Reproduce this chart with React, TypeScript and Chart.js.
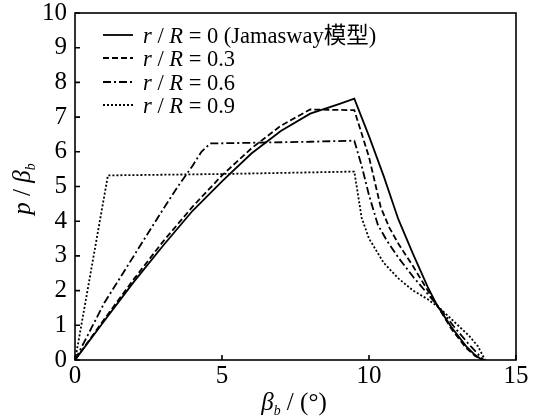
import React, { useEffect, useRef } from "react";
import { Chart, registerables } from "chart.js";

Chart.register(...registerables);

const FONT = '"Liberation Serif", "Times New Roman", "Noto Sans CJK SC", serif';

// x: beta_b (deg), y: p / beta_b
const xTickValues = [0, 5, 10, 15];
const yTickValues = [0, 1, 2, 3, 4, 5, 6, 7, 8, 9, 10];

const legendValues = ["0 (Jamasway模型)", "0.3", "0.6", "0.9"];

const seriesR00: number[][] = [
  [0, 0], [1, 1.13], [2, 2.25], [3, 3.3], [4, 4.3], [5, 5.15], [6, 5.95], [7, 6.6],
  [8, 7.1], [9, 7.38], [9.5, 7.53], [10, 6.45], [10.5, 5.3], [11, 4.05], [11.5, 3.05],
  [12, 2.1], [12.3, 1.6], [12.8, 0.95], [13.3, 0.4], [13.6, 0.15], [13.85, 0],
];
const seriesR03: number[][] = [
  [0, 0], [1, 1.18], [2, 2.33], [3, 3.42], [4, 4.42], [5, 5.32], [6, 6.1], [7, 6.75],
  [8, 7.22], [9.5, 7.2], [10, 5.85], [10.4, 4.4], [10.7, 3.8], [11, 3.35], [11.5, 2.7],
  [12, 2.0], [12.3, 1.6], [12.8, 0.9], [13.3, 0.35], [13.6, 0.12], [13.85, 0],
];
const seriesR06: number[][] = [
  [0, 0], [1, 1.65], [2, 3.0], [3, 4.35], [3.5, 5.0], [4, 5.6], [4.3, 6.0], [4.6, 6.24],
  [6, 6.26], [8, 6.29], [9.5, 6.32], [9.75, 5.6], [10, 4.75], [10.3, 3.9], [10.6, 3.45],
  [11, 2.95], [11.5, 2.4], [12, 1.9], [12.4, 1.5], [12.9, 0.95], [13.4, 0.45], [13.9, 0],
];
const seriesR09: number[][] = [
  [0, 0], [0.1, 0.45], [1.12, 5.32], [5, 5.36], [9.5, 5.43], [9.6, 4.9], [9.75, 4.1],
  [10, 3.5], [10.5, 2.8], [11, 2.35], [11.5, 2.0], [12, 1.75], [12.4, 1.5], [12.9, 1.1],
  [13.4, 0.7], [13.7, 0.4], [13.95, 0],
];

const dashes: number[][] = [[], [6, 3], [8, 3, 2, 3], [2, 2]];
const allSeries = [seriesR00, seriesR03, seriesR06, seriesR09];

type Part = { t: string; it?: boolean; sub?: boolean };

function drawParts(ctx: CanvasRenderingContext2D, parts: Part[], x: number, y: number, size: number) {
  let cx = x;
  for (const p of parts) {
    const s = p.sub ? size * 0.55 : size;
    ctx.font = `${p.it ? "italic " : ""}${s}px ${FONT}`;
    ctx.fillText(p.t, cx, y + (p.sub ? size * 0.18 : 0));
    cx += ctx.measureText(p.t).width;
  }
  return cx - x;
}

function measureParts(ctx: CanvasRenderingContext2D, parts: Part[], size: number) {
  let w = 0;
  for (const p of parts) {
    const s = p.sub ? size * 0.55 : size;
    ctx.font = `${p.it ? "italic " : ""}${s}px ${FONT}`;
    w += ctx.measureText(p.t).width;
  }
  return w;
}

const decorPlugin = {
  id: "decor",
  afterDatasetsDraw(chart: any) {
    const { ctx, chartArea: a, scales } = chart;
    const xs = scales.x;
    const ys = scales.y;
    ctx.save();
    ctx.strokeStyle = "#000";
    ctx.fillStyle = "#000";
    ctx.setLineDash([]);
    ctx.lineWidth = 1.6;
    ctx.strokeRect(a.left, a.top, a.right - a.left, a.bottom - a.top);
    ctx.beginPath();
    for (const v of yTickValues) {
      const py = ys.getPixelForValue(v);
      ctx.moveTo(a.left, py);
      ctx.lineTo(a.left + 5, py);
    }
    for (const v of xTickValues) {
      const px = xs.getPixelForValue(v);
      ctx.moveTo(px, a.bottom);
      ctx.lineTo(px, a.bottom - 5);
    }
    ctx.stroke();

    // legend
    const rowY = [35, 58, 82, 105];
    ctx.textBaseline = "alphabetic";
    ctx.textAlign = "left";
    legendValues.forEach((val, i) => {
      ctx.save();
      ctx.lineWidth = 1.8;
      ctx.setLineDash(dashes[i]);
      ctx.beginPath();
      ctx.moveTo(103, rowY[i]);
      ctx.lineTo(133, rowY[i]);
      ctx.stroke();
      ctx.restore();
      drawParts(
        ctx,
        [{ t: "r", it: true }, { t: " / " }, { t: "R", it: true }, { t: " = " + val }],
        143,
        rowY[i] + 8,
        22.5
      );
    });

    // x axis title
    const xParts: Part[] = [{ t: "β", it: true }, { t: "b", it: true, sub: true }, { t: " / (" }, { t: "°" }, { t: ")" }];
    const xw = measureParts(ctx, xParts, 25);
    drawParts(ctx, xParts, 294 - xw / 2, 410, 25);

    // y axis title
    ctx.save();
    ctx.translate(30, 189);
    ctx.rotate(-Math.PI / 2);
    const yParts: Part[] = [{ t: "p", it: true }, { t: " / " }, { t: "β", it: true }, { t: "b", it: true, sub: true }];
    const yw = measureParts(ctx, yParts, 25);
    drawParts(ctx, yParts, -yw / 2, 0, 25);
    ctx.restore();

    ctx.restore();
  },
};

export default function App() {
  const ref = useRef<HTMLCanvasElement>(null);
  useEffect(() => {
    document.body.style.margin = "0";
    const chart = new Chart(ref.current!, {
      type: "line",
      data: {
        datasets: allSeries.map((s, i) => ({
          label: legendValues[i],
          data: s.map(([x, y]) => ({ x, y })),
          borderColor: "#000",
          borderWidth: 1.8,
          borderDash: dashes[i],
          pointRadius: 0,
          fill: false,
          tension: 0,
        })),
      },
      options: {
        animation: false,
        responsive: false,
        layout: { padding: { top: 13, right: 18, left: 0, bottom: 0 } },
        plugins: { legend: { display: false }, tooltip: { enabled: false } },
        scales: {
          x: {
            type: "linear",
            min: 0,
            max: 15,
            afterFit: (s: any) => { s.height = 56; s.paddingLeft = 0; s.paddingRight = 0; },
            afterBuildTicks: (s: any) => { s.ticks = xTickValues.map((v) => ({ value: v })); },
            ticks: { font: { family: FONT, size: 25 }, color: "#000", padding: 1, maxRotation: 0 },
            grid: { display: false, drawTicks: false },
            border: { display: false },
          },
          y: {
            type: "linear",
            min: 0,
            max: 10,
            afterFit: (s: any) => { s.width = 75; s.paddingTop = 0; s.paddingBottom = 0; },
            afterBuildTicks: (s: any) => { s.ticks = yTickValues.map((v) => ({ value: v })); },
            ticks: { font: { family: FONT, size: 25 }, color: "#000", padding: 8 },
            grid: { display: false, drawTicks: false },
            border: { display: false },
          },
        },
      },
      plugins: [decorPlugin],
    });
    return () => chart.destroy();
  }, []);
  return (
    <div style={{ width: 534, height: 416 }}>
      <canvas ref={ref} width={534} height={416} style={{ width: 534, height: 416, display: "block" }} />
    </div>
  );
}
